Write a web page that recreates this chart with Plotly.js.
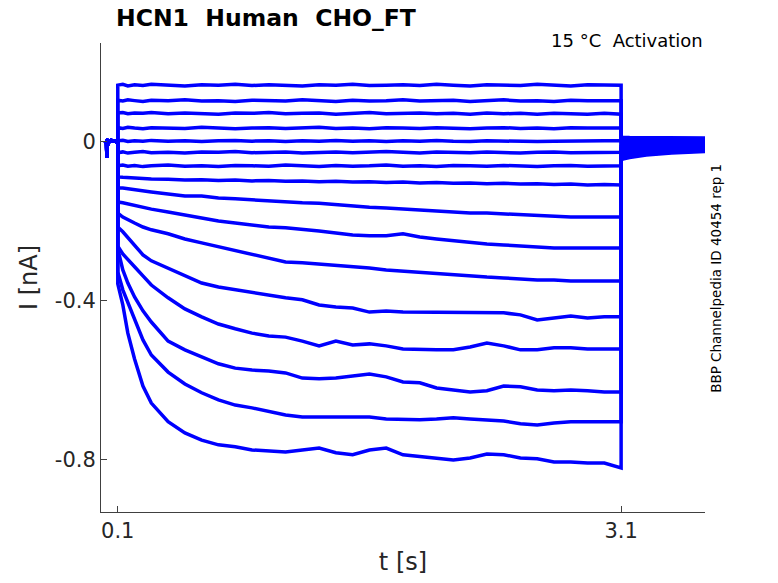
<!DOCTYPE html>
<html>
<head>
<meta charset="utf-8">
<script src="https://cdn.plot.ly/plotly-3.0.1.min.js"></script>
<style>html,body{margin:0;padding:0;background:#fff;}#chart{width:778px;height:583px;}</style>
</head>
<body>
<div id="chart"></div>
<script>
// time bases (s)
const tHold = [0.024, 0.028, 0.033, 0.035, 0.037, 0.042, 0.05, 0.06, 0.07, 0.08, 0.09, 0.1];
const iHold = [0.003, 0.001, 0.002, -0.040, -0.012, 0.003, 0.001, 0.004, 0.002, 0.003, 0.001, 0.002];
const tStep = [0.1, 0.13, 0.16, 0.2, 0.25, 0.3, 0.4, 0.5, 0.6, 0.7, 0.8, 0.9, 1.0, 1.1, 1.2, 1.3, 1.4, 1.5, 1.6, 1.7, 1.8, 1.9, 2.0, 2.1, 2.2, 2.3, 2.4, 2.5, 2.6, 2.7, 2.8, 2.9, 3.0, 3.1];
const tTail = [3.1, 3.11, 3.15, 3.25, 3.4, 3.6];

// currents during the test step (nA), one sweep per voltage
const sweep01 = [0.143,0.145,0.141,0.144,0.142,0.145,0.143,0.141,0.144,0.143,0.145,0.142,0.144,0.143,0.141,0.144,0.143,0.145,0.142,0.143,0.144,0.142,0.145,0.143,0.141,0.144,0.143,0.142,0.145,0.143,0.141,0.144,0.143,0.143];
const sweep02 = [0.105,0.103,0.106,0.104,0.102,0.105,0.104,0.106,0.103,0.104,0.102,0.105,0.104,0.103,0.106,0.104,0.102,0.105,0.103,0.104,0.106,0.103,0.104,0.105,0.102,0.104,0.106,0.103,0.104,0.102,0.105,0.104,0.103,0.104];
const sweep03 = [0.073,0.074,0.071,0.073,0.072,0.074,0.071,0.073,0.072,0.070,0.073,0.072,0.074,0.071,0.072,0.073,0.070,0.072,0.074,0.071,0.072,0.073,0.071,0.072,0.070,0.073,0.071,0.072,0.070,0.072,0.071,0.070,0.072,0.070];
const sweep04 = [0.036,0.034,0.037,0.035,0.033,0.036,0.035,0.034,0.037,0.035,0.033,0.035,0.036,0.034,0.035,0.037,0.034,0.035,0.033,0.036,0.035,0.034,0.036,0.035,0.033,0.035,0.036,0.034,0.035,0.033,0.036,0.035,0.034,0.035];
const sweep05 = [0.003,0.004,0.001,0.003,0.002,0.004,0.002,0.003,0.001,0.003,0.004,0.002,0.003,0.001,0.003,0.002,0.004,0.002,0.003,0.001,0.003,0.002,0.004,0.002,0.001,0.003,0.002,0.003,0.001,0.002,0.003,0.002,0.003,0.003];
const sweep06 = [-0.027,-0.025,-0.028,-0.026,-0.024,-0.027,-0.026,-0.028,-0.025,-0.026,-0.024,-0.027,-0.026,-0.025,-0.028,-0.026,-0.025,-0.027,-0.026,-0.024,-0.026,-0.028,-0.025,-0.026,-0.027,-0.025,-0.026,-0.028,-0.026,-0.025,-0.027,-0.026,-0.026,-0.026];
const sweep07 = [-0.060,-0.058,-0.061,-0.059,-0.062,-0.060,-0.058,-0.061,-0.060,-0.062,-0.059,-0.060,-0.061,-0.058,-0.060,-0.062,-0.059,-0.061,-0.060,-0.058,-0.061,-0.060,-0.062,-0.059,-0.060,-0.061,-0.059,-0.060,-0.062,-0.060,-0.059,-0.061,-0.060,-0.060];
const sweep08 = [-0.088,-0.089,-0.090,-0.091,-0.092,-0.093,-0.094,-0.096,-0.095,-0.097,-0.096,-0.098,-0.097,-0.099,-0.098,-0.100,-0.099,-0.101,-0.100,-0.102,-0.101,-0.103,-0.102,-0.104,-0.103,-0.105,-0.104,-0.106,-0.105,-0.107,-0.106,-0.108,-0.107,-0.108];
const sweep09 = [-0.116,-0.116,-0.118,-0.121,-0.123,-0.126,-0.131,-0.136,-0.136,-0.141,-0.143,-0.146,-0.148,-0.151,-0.153,-0.154,-0.158,-0.161,-0.164,-0.166,-0.169,-0.171,-0.174,-0.176,-0.179,-0.179,-0.181,-0.184,-0.186,-0.186,-0.189,-0.189,-0.189,-0.189];
const sweep10 = [-0.151,-0.153,-0.156,-0.158,-0.164,-0.169,-0.176,-0.184,-0.191,-0.199,-0.204,-0.209,-0.214,-0.216,-0.219,-0.224,-0.229,-0.234,-0.236,-0.236,-0.231,-0.239,-0.244,-0.249,-0.252,-0.257,-0.259,-0.262,-0.264,-0.267,-0.267,-0.267,-0.267,-0.267];
const sweep11 = [-0.179,-0.189,-0.196,-0.204,-0.214,-0.221,-0.231,-0.244,-0.254,-0.264,-0.274,-0.284,-0.294,-0.302,-0.304,-0.307,-0.312,-0.314,-0.317,-0.322,-0.325,-0.330,-0.332,-0.335,-0.337,-0.340,-0.342,-0.345,-0.347,-0.347,-0.350,-0.350,-0.350,-0.350];
const sweep12 = [-0.214,-0.226,-0.241,-0.259,-0.284,-0.299,-0.317,-0.337,-0.355,-0.365,-0.372,-0.377,-0.385,-0.392,-0.397,-0.410,-0.415,-0.418,-0.428,-0.425,-0.428,-0.428,-0.430,-0.430,-0.430,-0.430,-0.430,-0.435,-0.448,-0.443,-0.438,-0.443,-0.440,-0.440];
const sweep13 = [-0.262,-0.282,-0.297,-0.314,-0.337,-0.360,-0.392,-0.420,-0.440,-0.458,-0.470,-0.481,-0.488,-0.491,-0.501,-0.513,-0.501,-0.511,-0.508,-0.513,-0.521,-0.523,-0.523,-0.523,-0.516,-0.506,-0.513,-0.523,-0.523,-0.518,-0.518,-0.521,-0.521,-0.521];
const sweep14 = [-0.269,-0.322,-0.355,-0.390,-0.425,-0.453,-0.501,-0.523,-0.541,-0.558,-0.569,-0.574,-0.576,-0.581,-0.594,-0.596,-0.594,-0.589,-0.584,-0.591,-0.604,-0.606,-0.619,-0.624,-0.629,-0.626,-0.614,-0.616,-0.624,-0.626,-0.624,-0.626,-0.629,-0.629];
const sweep15 = [-0.327,-0.372,-0.405,-0.448,-0.498,-0.536,-0.579,-0.609,-0.631,-0.649,-0.662,-0.669,-0.679,-0.687,-0.692,-0.692,-0.694,-0.694,-0.692,-0.697,-0.699,-0.699,-0.697,-0.694,-0.697,-0.699,-0.702,-0.709,-0.712,-0.707,-0.704,-0.704,-0.704,-0.704];
const sweep16 = [-0.357,-0.410,-0.481,-0.546,-0.614,-0.657,-0.704,-0.732,-0.750,-0.762,-0.767,-0.775,-0.777,-0.780,-0.775,-0.770,-0.782,-0.787,-0.775,-0.770,-0.787,-0.792,-0.797,-0.800,-0.795,-0.785,-0.787,-0.795,-0.797,-0.805,-0.805,-0.808,-0.808,-0.820];

// tail currents after the step (nA)
const tail01 = [0.013, 0.012, 0.011, 0.011, 0.010, 0.010];
const tail02 = [0.010, 0.010, 0.009, 0.009, 0.008, 0.008];
const tail03 = [0.007, 0.007, 0.007, 0.006, 0.006, 0.006];
const tail04 = [0.004, 0.004, 0.004, 0.004, 0.004, 0.004];
const tail05 = [0.001, 0.001, 0.001, 0.001, 0.002, 0.002];
const tail06 = [-0.003, -0.003, -0.002, -0.002, -0.001, 0.000];
const tail07 = [-0.007, -0.007, -0.006, -0.005, -0.004, -0.003];
const tail08 = [-0.011, -0.011, -0.010, -0.008, -0.007, -0.005];
const tail09 = [-0.016, -0.015, -0.014, -0.012, -0.010, -0.008];
const tail10 = [-0.021, -0.020, -0.018, -0.015, -0.013, -0.011];
const tail11 = [-0.026, -0.025, -0.022, -0.019, -0.016, -0.013];
const tail12 = [-0.030, -0.029, -0.026, -0.022, -0.019, -0.016];
const tail13 = [-0.034, -0.033, -0.030, -0.025, -0.021, -0.018];
const tail14 = [-0.038, -0.037, -0.033, -0.028, -0.024, -0.020];
const tail15 = [-0.042, -0.040, -0.036, -0.031, -0.026, -0.022];
const tail16 = [-0.045, -0.043, -0.039, -0.033, -0.028, -0.024];

const xTickVals = [0.1, 3.1];
const xTickText = ['0.1', '3.1'];
const yTickVals = [0, -0.4, -0.8];
const yTickText = ['0', '-0.4', '-0.8'];

const sweeps = [sweep01, sweep02, sweep03, sweep04, sweep05, sweep06, sweep07, sweep08,
                sweep09, sweep10, sweep11, sweep12, sweep13, sweep14, sweep15, sweep16];
const tails = [tail01, tail02, tail03, tail04, tail05, tail06, tail07, tail08,
               tail09, tail10, tail11, tail12, tail13, tail14, tail15, tail16];

const traces = sweeps.map((s, k) => ({
  type: 'scatter',
  mode: 'lines',
  x: tHold.concat(tStep, tTail),
  y: iHold.concat(s, tails[k]),
  line: {color: '#0000ff', width: 3.5},
  hoverinfo: 'skip',
  showlegend: false
}));

const axisFont = {family: 'DejaVu Sans', size: 21, color: '#262626'};
const layout = {
  width: 778, height: 583,
  margin: {l: 101, r: 73, t: 43, b: 71, pad: 0},
  paper_bgcolor: '#ffffff', plot_bgcolor: '#ffffff',
  font: {family: 'DejaVu Sans', color: '#262626'},
  title: {
    text: 'HCN1\u00a0\u00a0Human\u00a0\u00a0CHO_FT',
    font: {family: 'DejaVu Sans', size: 23.5, weight: 'bold', color: '#000000'},
    xref: 'container', yref: 'container',
    x: 116 / 778, xanchor: 'left',
    y: 1 - 18 / 583, yanchor: 'middle'
  },
  xaxis: {
    range: [0, 3.6], showline: true, linecolor: '#404040', linewidth: 1,
    ticks: 'inside', ticklen: 6, tickcolor: '#404040', tickwidth: 1,
    tickvals: xTickVals, ticktext: xTickText, tickfont: axisFont,
    showgrid: false, zeroline: false, mirror: false, automargin: false,
    title: {text: 't [s]', font: {family: 'DejaVu Sans', size: 24, color: '#262626'}, standoff: 10}
  },
  yaxis: {
    range: [-0.931, 0.249], showline: true, linecolor: '#404040', linewidth: 1,
    ticks: 'inside', ticklen: 6, tickcolor: '#404040', tickwidth: 1,
    tickvals: yTickVals, ticktext: yTickText, tickfont: axisFont,
    showgrid: false, zeroline: false, mirror: false, automargin: false,
    title: {text: 'I [nA]', font: {family: 'DejaVu Sans', size: 24, color: '#262626'}, standoff: 10}
  },
  annotations: [
    {text: '15\u00a0°C\u00a0\u00a0Activation', xref: 'paper', yref: 'paper', x: 1, y: 1.006,
     xanchor: 'right', yanchor: 'middle', showarrow: false,
     font: {family: 'DejaVu Sans', size: 18, color: '#000000'}},
    {text: 'BBP Channelpedia ID 40454 rep 1', xref: 'paper', yref: 'paper', x: 1.018, y: 0.499,
     xanchor: 'center', yanchor: 'middle', textangle: -90, showarrow: false,
     font: {family: 'DejaVu Sans', size: 13.5, color: '#000000'}}
  ]
};

Plotly.newPlot('chart', traces, layout, {displayModeBar: false, staticPlot: true});
</script>
</body>
</html>
